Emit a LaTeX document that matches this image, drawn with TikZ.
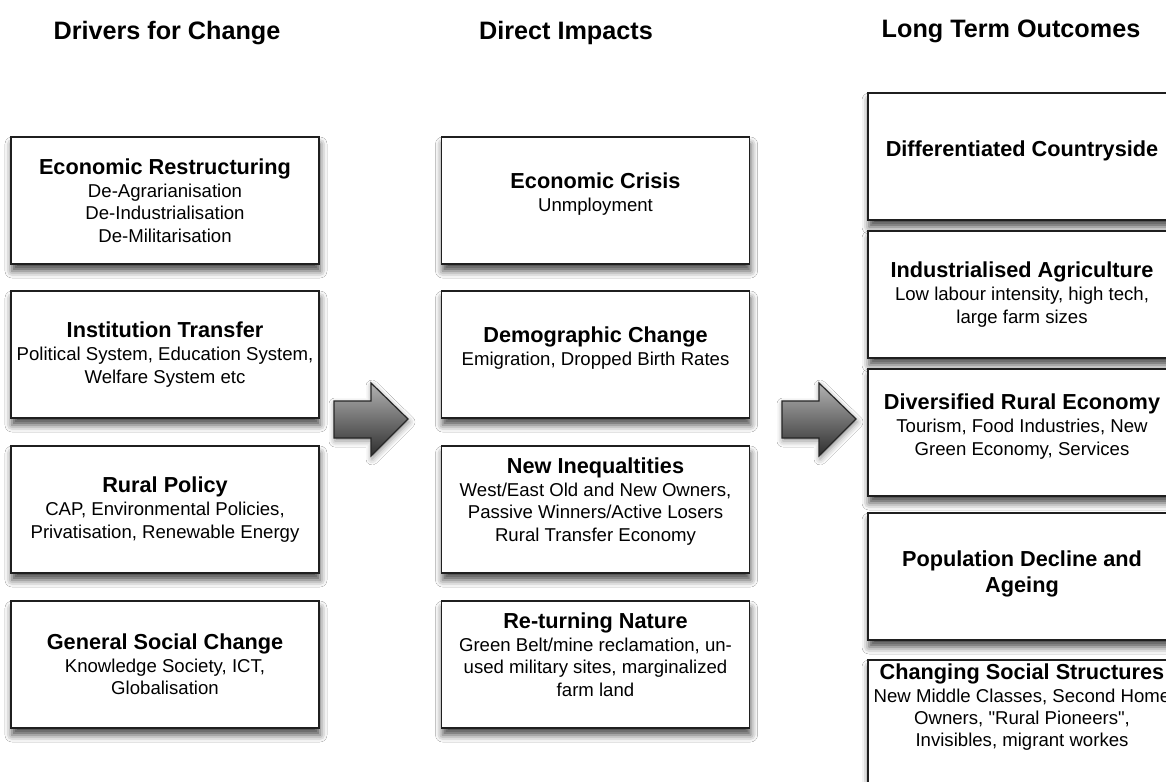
\documentclass[tikz,border=0pt]{standalone}
\usepackage{fontspec}
\setmainfont{Liberation Sans}
\newfontfamily\qfont{Liberation Sans}
\usetikzlibrary{shadows.blur}
\newcommand\btfont{\fontsize{10.85}{13}\selectfont\bfseries}
\newcommand\boxtitle[1]{{\btfont #1}\\[0.5pt]}
\newcommand\sq{{\qfont"}}
\tikzset{
  box/.style={draw=black!88, line width=0.9pt, fill=white,
    minimum width=154pt, minimum height=63.5pt, align=center, inner sep=2pt,
    font=\fontsize{9.3}{11.1}\selectfont,
    blur shadow={shadow xshift=0.5pt, shadow yshift=-3.5pt, shadow blur radius=3.5pt, shadow opacity=70}},
  up/.style={text depth=#1},
  hdr/.style={font=\fontsize{12.6}{15}\selectfont\bfseries},
  txt/.style={align=center, inner sep=0pt, font=\fontsize{9.3}{11.1}\selectfont},
  bigarrow/.style={draw=black!85, line width=0.6pt, line join=miter,
    top color=black!30, bottom color=black!82,
    blur shadow={shadow xshift=0.5pt, shadow yshift=-1.5pt, shadow blur radius=3pt, shadow opacity=45}}
}
\begin{document}
\begin{tikzpicture}[x=0.5pt, y=-0.5pt]
\useasboundingbox (0,0) rectangle (1166,781);
\clip (0,0) rectangle (1166,781);
\fill[white] (0,0) rectangle (1166,781);

% headers
\node[hdr] (h1) at (167,33) {Drivers for Change};
\node[hdr] (h2) at (566,33) {Direct Impacts};
\node[hdr] (h3) at (1011,31) {Long Term Outcomes};

% left column
\node[box] (l1) at (165,200.5) {\boxtitle{Economic Restructuring}De-Agrarianisation\\De-Industrialisation\\De-Militarisation};
\node[box] (l2) at (165,354.5) {\boxtitle{Institution Transfer}Political System, Education System,\\Welfare System etc};
\node[box] (l3) at (165,509.5) {\boxtitle{Rural Policy}CAP, Environmental Policies,\\Privatisation, Renewable Energy};
\node[box] (l4) at (165,664.5) {\boxtitle{General Social Change}Knowledge Society, ICT,\\Globalisation};

% middle column
\node[box, up=8.5pt] (m1) at (595.5,200.5) {\boxtitle{Economic Crisis}Unmployment};
\node[box, up=8.5pt] (m2) at (595.5,354.5) {\boxtitle{Demographic Change}Emigration, Dropped Birth Rates};
\node[box, up=10pt] (m3) at (595.5,509.5) {\boxtitle{New Inequaltities}West/East Old and New Owners,\\Passive Winners/Active Losers\\Rural Transfer Economy};
\node[box, up=10pt] (m4) at (595.5,664.5) {\boxtitle{Re-turning Nature}Green Belt/mine reclamation, un-\\used military sites, marginalized\\farm land};

% right column
\node[box, font=\btfont, up=7.5pt] (r1) at (1022,156.5) {Differentiated Countryside};
\node[box] (r2) at (1022,294.5) {\boxtitle{Industrialised Agriculture}Low labour intensity, high tech,\\large farm sizes};
\node[box, up=8pt] (r3) at (1022,432.5) {\boxtitle{Diversified Rural Economy}Tourism, Food Industries, New\\Green Economy, Services};
\node[box, font=\btfont, up=5pt] (r4) at (1022,576.5) {Population Decline and\\Ageing};
\node[box, anchor=north] (r5) at (1022,659) {};
\node[txt] (r5t) at (1022,707) {\boxtitle{Changing Social Structures}New Middle Classes, Second Home\\Owners, \sq Rural Pioneers\sq,\\Invisibles, migrant workes};

% block arrows
\path[bigarrow] (334,401) -- (371,401) -- (371,383) -- (408,419) -- (371,456) -- (371,438) -- (334,438) -- cycle;
\path[bigarrow] (782,401) -- (819,401) -- (819,383) -- (856,419) -- (819,456) -- (819,438) -- (782,438) -- cycle;
\end{tikzpicture}
\end{document}
